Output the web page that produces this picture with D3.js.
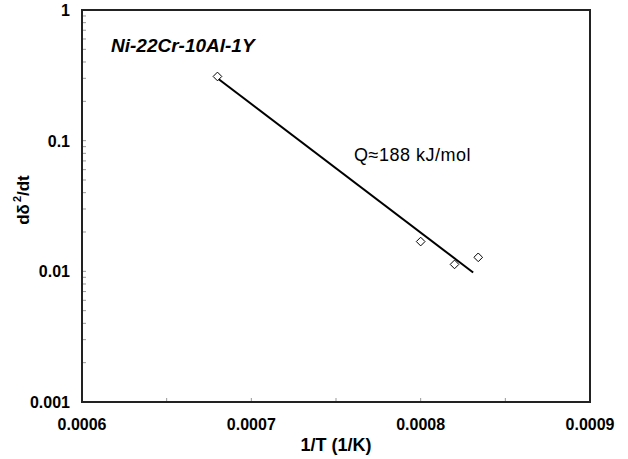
<!DOCTYPE html>
<html>
<head>
<meta charset="utf-8">
<script src="https://cdn.jsdelivr.net/npm/d3@7"></script>
<style>
  body { margin: 0; background: #fff; }
  text { font-family: "Liberation Sans", Arial, sans-serif; }
</style>
</head>
<body>
<div id="chart"></div>
<script>
// measured points
let invT = [0.00068, 0.0008, 0.00082, 0.000834];
let rate = [0.31, 0.0169, 0.0113, 0.0128];

// Arrhenius fit line end points
let fitX = [0.00068, 0.000831];
let fitY = [0.30, 0.0098];

let xTicks = [0.0006, 0.0007, 0.0008, 0.0009];
let yTicks = [0.001, 0.01, 0.1, 1];

let width = 628, height = 459;
let margin = {top: 10, right: 38, bottom: 57, left: 82};

let svg = d3.select("#chart").append("svg")
    .attr("width", width)
    .attr("height", height);

let x = d3.scaleLinear()
    .domain([0.0006, 0.0009])
    .range([margin.left, width - margin.right]);

let y = d3.scaleLog()
    .domain([0.001, 1])
    .range([height - margin.bottom, margin.top]);

// minor ticks, inside the frame
let xMinor = d3.range(0.00065, 0.0009, 0.0001).concat(xTicks.slice(1, 3));
svg.append("g")
    .selectAll("line")
    .data(xMinor)
    .enter().append("line")
    .attr("x1", d => x(d)).attr("x2", d => x(d))
    .attr("y1", y(0.001)).attr("y2", y(0.001) - 4)
    .attr("stroke", "#999").attr("stroke-width", 1);

let yMinor = [];
[0.001, 0.01, 0.1].forEach(dec => {
    for (let k = 2; k <= 10; k++) yMinor.push(dec * k);
});
svg.append("g")
    .selectAll("line")
    .data(yMinor)
    .enter().append("line")
    .attr("x1", x(0.0006)).attr("x2", x(0.0006) + 4)
    .attr("y1", d => y(d)).attr("y2", d => y(d))
    .attr("stroke", "#999").attr("stroke-width", 1);

// frame
svg.append("rect")
    .attr("x", x(0.0006))
    .attr("y", y(1))
    .attr("width", x(0.0009) - x(0.0006))
    .attr("height", y(0.001) - y(1))
    .attr("fill", "none")
    .attr("stroke", "#222")
    .attr("stroke-width", 2);

// tick labels
svg.append("g")
    .selectAll("text")
    .data(xTicks)
    .enter().append("text")
    .attr("x", d => x(d))
    .attr("y", y(0.001) + 28)
    .attr("text-anchor", "middle")
    .attr("font-size", "16px")
    .attr("font-weight", "bold")
    .text(d => d.toFixed(4));

svg.append("g")
    .selectAll("text")
    .data(yTicks)
    .enter().append("text")
    .attr("x", x(0.0006) - 12)
    .attr("y", d => y(d) + 6)
    .attr("text-anchor", "end")
    .attr("font-size", "16px")
    .attr("font-weight", "bold")
    .text(d => String(d));

// axis titles
svg.append("text")
    .attr("x", (x(0.0006) + x(0.0009)) / 2)
    .attr("y", 451)
    .attr("text-anchor", "middle")
    .attr("font-size", "18px")
    .attr("font-weight", "bold")
    .text("1/T (1/K)");

let yTitle = svg.append("text")
    .attr("transform", `translate(29, 200) rotate(-90)`)
    .attr("text-anchor", "middle")
    .attr("font-size", "17px")
    .attr("font-weight", "bold");
yTitle.append("tspan").text("dδ");
yTitle.append("tspan").attr("dx", 2).attr("dy", -8).attr("font-size", "11px").text("2");
yTitle.append("tspan").attr("dy", 8).text("/dt");

// fit line
let line = d3.line().x(d => x(d[0])).y(d => y(d[1]));
svg.append("path")
    .datum(d3.zip(fitX, fitY))
    .attr("d", line)
    .attr("fill", "none")
    .attr("stroke", "#000")
    .attr("stroke-width", 2);

// data points as diamonds
svg.append("g")
    .selectAll("path")
    .data(d3.zip(invT, rate))
    .enter().append("path")
    .attr("d", d3.symbol().type(d3.symbolDiamond2).size(48))
    .attr("transform", d => `translate(${x(d[0])}, ${y(d[1])})`)
    .attr("fill", "#fff")
    .attr("stroke", "#000")
    .attr("stroke-width", 1);

// labels
svg.append("text")
    .attr("x", 111)
    .attr("y", 52)
    .attr("font-size", "19px")
    .attr("font-weight", "bold")
    .attr("font-style", "italic")
    .text("Ni-22Cr-10Al-1Y");

svg.append("text")
    .attr("x", 354)
    .attr("y", 161)
    .attr("font-size", "18px")
    .attr("letter-spacing", "0.5px")
    .text("Q\u2248188 kJ/mol");
</script>
</body>
</html>
